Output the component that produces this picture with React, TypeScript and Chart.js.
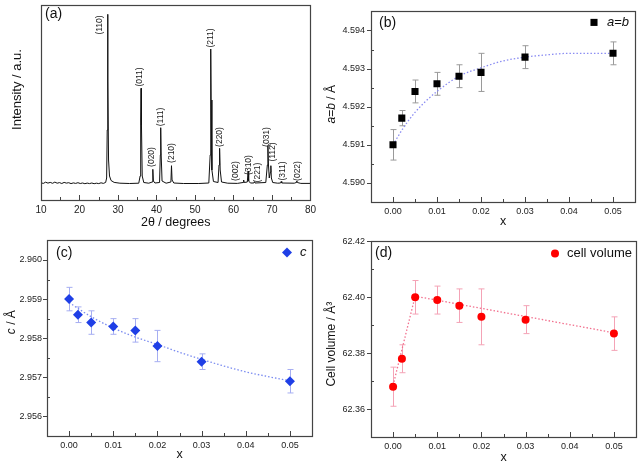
import React, { useEffect, useRef } from "react";
import { Chart, registerables } from "chart.js";
Chart.register(...registerables);

const FONT = '"Liberation Sans", Arial, Helvetica, sans-serif';

// ---------- (a) XRD pattern ----------
const xrdTheta = [
  10.0, 10.6, 11.2, 11.8, 12.4, 13.0, 13.6, 14.2, 14.8, 15.4, 16.0, 16.6, 17.2, 17.8, 18.4, 19.0, 19.6, 20.2,
  20.8, 21.4, 22.0, 22.6, 23.2, 23.8, 24.4, 25.0, 25.6, 26.2, 26.8, 27.05, 27.2, 27.3, 27.4, 27.55, 27.8, 28.2,
  29.0, 30.5, 33.0, 35.4, 35.75, 35.9, 36.0, 36.1, 36.3, 36.7, 38.0, 38.9, 39.05, 39.2, 39.6, 40.8, 41.0, 41.1,
  41.2, 41.45, 42.5, 43.75, 43.9, 44.05, 44.5, 47.0, 51.0, 53.6, 53.95, 54.1, 54.2, 54.4, 54.8, 56.0, 56.25,
  56.4, 56.55, 56.9, 58.5, 61.0, 62.5, 62.65, 62.8, 63.6, 63.8, 63.95, 64.4, 65.3, 65.45, 65.6, 68.4, 68.8,
  68.95, 69.1, 69.3, 69.6, 69.72, 69.85, 70.2, 71.5, 72.25, 72.4, 72.55, 75.8, 76.3, 76.45, 76.6, 77.5, 80.0,
];
const xrdIntensity = [
  17.2, 16.6, 17.8, 16.9, 17.6, 16.7, 17.9, 16.8, 17.4, 16.5, 17.6, 16.9, 17.3, 16.4, 17.1, 16.6, 17.3, 16.5,
  17.0, 16.3, 16.9, 16.4, 17.0, 16.3, 16.8, 16.4, 17.2, 16.6, 17.6, 22, 70, 185.7, 120, 40, 24, 19.5,
  17.6, 16.8, 16.5, 16.8, 24, 80, 111.7, 75, 24, 17.5, 16.8, 18, 30.7, 19, 17, 17.5, 45, 72.3,
  48, 19, 16.8, 18, 34.3, 20, 17, 16.5, 16.5, 17, 45, 151, 100, 30, 18.5, 17.5, 35,
  51.7, 30, 18, 16.8, 16.6, 17.5, 20, 17.5, 18, 29, 19, 17, 17, 18.3, 17, 17.5, 35,
  54.3, 35, 22, 28, 34.3, 22, 17.5, 16.8, 17, 18.5, 17, 16.8, 17.5, 19, 17.5, 16.6, 16.6,
];
const peakNames = ["(110)", "(011)", "(020)", "(111)", "(210)", "(211)", "(220)", "(002)", "(310)", "(221)", "(031)", "(112)", "(311)", "(022)"];
const peakLabelTheta = [25.3, 35.7, 38.8, 41.1, 43.9, 54.0, 56.4, 60.7, 63.9, 66.3, 68.6, 70.2, 72.8, 76.7];
const peakLabelIntensity = [175, 123, 43, 83, 47, 162, 63, 29, 35, 27.5, 63, 48, 29, 29];
const xrdTicks = [10, 20, 30, 40, 50, 60, 70, 80];

// ---------- (b)(c)(d) lattice parameters ----------
const compX = [0, 0.002, 0.005, 0.01, 0.015, 0.02, 0.03, 0.05];
const compTicks = [0, 0.01, 0.02, 0.03, 0.04, 0.05];

const latticeA = [4.591, 4.5917, 4.5924, 4.5926, 4.5928, 4.5929, 4.5933, 4.5934];
const latticeAErr = [0.0004, 0.0002, 0.0003, 0.0003, 0.0003, 0.0005, 0.0003, 0.0003];
const fitAX = [0, 0.0025, 0.005, 0.0075, 0.01, 0.015, 0.02, 0.025, 0.03, 0.035, 0.04, 0.045, 0.05];
const fitAY = [4.591, 4.59147, 4.59185, 4.59215, 4.5924, 4.5928, 4.59302, 4.5932, 4.5933, 4.59336, 4.5934, 4.5934, 4.5934];
const aTicks = [4.59, 4.591, 4.592, 4.593, 4.594];

const latticeC = [2.959, 2.9586, 2.9584, 2.9583, 2.9582, 2.9578, 2.9574, 2.9569];
const latticeCErr = [0.0003, 0.0002, 0.0003, 0.0002, 0.0003, 0.0004, 0.0002, 0.0003];
const fitCX = [0, 0.005, 0.01, 0.015, 0.02, 0.025, 0.03, 0.035, 0.04, 0.045, 0.05];
const fitCY = [2.95891, 2.95855, 2.95826, 2.95803, 2.95784, 2.95764, 2.95746, 2.95729, 2.95714, 2.95702, 2.95691];
const cTicks = [2.956, 2.957, 2.958, 2.959, 2.96];

const cellVolume = [62.368, 62.378, 62.4, 62.399, 62.397, 62.393, 62.392, 62.387];
const cellVolumeErr = [0.007, 0.005, 0.006, 0.005, 0.006, 0.01, 0.005, 0.006];
const fitVX = [0, 0.005, 0.05];
const fitVY = [62.3685, 62.4004, 62.3873];
const vTicks = [62.36, 62.38, 62.4, 62.42];

type Run = { t: string; i?: boolean };

function drawRuns(ctx: CanvasRenderingContext2D, runs: Run[], size: number, x: number, y: number, rotate: boolean, align: "center" | "left") {
  ctx.save();
  ctx.translate(x, y);
  if (rotate) ctx.rotate(-Math.PI / 2);
  const f = (r: Run) => `${r.i ? "italic " : ""}${size}px ${FONT}`;
  let total = 0;
  runs.forEach((r) => { ctx.font = f(r); total += ctx.measureText(r.t).width; });
  let cx = align === "center" ? -total / 2 : 0;
  ctx.textBaseline = "middle";
  ctx.textAlign = "left";
  ctx.fillStyle = "#111";
  runs.forEach((r) => { ctx.font = f(r); ctx.fillText(r.t, cx, 0); cx += ctx.measureText(r.t).width; });
  ctx.restore();
}

function drawMarker(ctx: CanvasRenderingContext2D, style: string, x: number, y: number, r: number, color: string) {
  ctx.save();
  ctx.fillStyle = color;
  ctx.beginPath();
  if (style === "rect") {
    const s = Math.SQRT1_2 * r;
    ctx.rect(x - s, y - s, 2 * s, 2 * s);
  } else if (style === "rectRot") {
    ctx.moveTo(x, y - r); ctx.lineTo(x + r, y); ctx.lineTo(x, y + r); ctx.lineTo(x - r, y); ctx.closePath();
  } else {
    ctx.arc(x, y, r, 0, Math.PI * 2);
  }
  ctx.fill();
  ctx.restore();
}

const decor = {
  id: "decor",
  beforeDatasetsDraw(chart: any, _a: any, o: any) {
    if (!o || !o.err) return;
    const { ctx } = chart;
    const xs = chart.scales.x, ys = chart.scales.y;
    const pts = chart.data.datasets[0].data;
    ctx.save();
    ctx.strokeStyle = o.err.color;
    ctx.lineWidth = 1;
    pts.forEach((p: any, k: number) => {
      const e = o.err.values[k];
      const px = Math.round(xs.getPixelForValue(p.x)) + 0.5;
      const t = ys.getPixelForValue(p.y + e), b = ys.getPixelForValue(p.y - e);
      ctx.beginPath();
      ctx.moveTo(px, t); ctx.lineTo(px, b);
      ctx.moveTo(px - 3, t); ctx.lineTo(px + 3, t);
      ctx.moveTo(px - 3, b); ctx.lineTo(px + 3, b);
      ctx.stroke();
    });
    ctx.restore();
  },
  afterDraw(chart: any, _a: any, o: any) {
    if (!o) return;
    const { ctx, chartArea: ca } = chart;
    const xs = chart.scales.x, ys = chart.scales.y;
    ctx.save();
    ctx.strokeStyle = "#444";
    ctx.lineWidth = 1;
    const minors = (vals: number[], min: number, max: number) => {
      const out: number[] = [];
      const step = vals[1] - vals[0];
      const ext = [vals[0] - step / 2, ...vals.slice(0, -1).map((v, k) => (v + vals[k + 1]) / 2), vals[vals.length - 1] + step / 2];
      const eps = step * 1e-3;
      ext.forEach((v) => { if (v > min + eps && v < max - eps) out.push(v); });
      return out;
    };
    // x ticks (inward)
    const xv = xs.ticks.map((t: any) => t.value);
    ctx.beginPath();
    xv.forEach((v: number) => { const p = Math.round(xs.getPixelForValue(v)) + 0.5; ctx.moveTo(p, ca.bottom); ctx.lineTo(p, ca.bottom - 5); });
    minors(xv, xs.min, xs.max).forEach((v) => { const p = Math.round(xs.getPixelForValue(v)) + 0.5; ctx.moveTo(p, ca.bottom); ctx.lineTo(p, ca.bottom - 3); });
    ctx.stroke();
    if (o.yTicks) {
      const yv = ys.ticks.map((t: any) => t.value);
      ctx.beginPath();
      yv.forEach((v: number) => { const p = Math.round(ys.getPixelForValue(v)) + 0.5; ctx.moveTo(ca.left - 4, p); ctx.lineTo(ca.left, p); });
      minors(yv, ys.min, ys.max).forEach((v) => { const p = Math.round(ys.getPixelForValue(v)) + 0.5; ctx.moveTo(ca.left, p); ctx.lineTo(ca.left + 3, p); });
      ctx.stroke();
    }
    // frame
    ctx.lineWidth = 1.2;
    ctx.strokeRect(Math.round(ca.left) + 0.5, Math.round(ca.top) + 0.5, Math.round(ca.width), Math.round(ca.height));
    ctx.restore();

    // panel label
    drawRuns(ctx, [{ t: o.panel.text }], 14, ca.left + o.panel.dx, ca.top + o.panel.dy, false, "left");
    // y title
    if (o.yTitle) drawRuns(ctx, o.yTitle.runs, o.yTitle.size, o.yTitle.x, (ca.top + ca.bottom) / 2 + o.yTitle.dy, true, "center");
    // legend
    if (o.legend) {
      const L = o.legend;
      drawMarker(ctx, L.style, ca.right + L.mx, ca.top + L.dy, L.r, L.color);
      drawRuns(ctx, L.runs, 13, ca.right + L.tx, ca.top + L.dy, false, "left");
    }
    // peak labels
    if (o.peaks) {
      ctx.save();
      ctx.font = `8.5px ${FONT}`;
      ctx.fillStyle = "#222";
      ctx.textAlign = "center";
      ctx.textBaseline = "middle";
      o.peaks.names.forEach((n: string, k: number) => {
        const x = xs.getPixelForValue(o.peaks.x[k]);
        const y = ys.getPixelForValue(o.peaks.y[k]);
        ctx.save();
        ctx.translate(x, y);
        ctx.rotate(-Math.PI / 2);
        ctx.fillText(n, 0, 0);
        ctx.restore();
      });
      ctx.restore();
    }
  },
};

function xAxis(min: number, max: number, ticks: number[], digits: number, height: number, size: number, pad: number, title: string, titlePad: number) {
  return {
    type: "linear",
    min, max,
    afterBuildTicks: (s: any) => { s.ticks = ticks.map((v) => ({ value: v })); },
    afterFit: (s: any) => { s.height = height; },
    grid: { display: false, drawTicks: false },
    border: { display: false },
    ticks: { autoSkip: false, maxRotation: 0, padding: pad, color: "#222", font: { family: FONT, size }, callback: (v: any) => Number(v).toFixed(digits) },
    title: { display: true, text: title, color: "#111", font: { family: FONT, size: 12.5 }, padding: { top: 0, bottom: titlePad } },
  };
}

function yAxis(min: number, max: number, ticks: number[], digits: number, width: number, show: boolean, pad: number) {
  return {
    type: "linear",
    min, max,
    afterBuildTicks: (s: any) => { s.ticks = ticks.map((v) => ({ value: v })); },
    afterFit: (s: any) => { s.width = width; },
    grid: { display: false, drawTicks: false },
    border: { display: false },
    ticks: { display: show, autoSkip: false, padding: pad, color: "#222", font: { family: FONT, size: 9 }, callback: (v: any) => Number(v).toFixed(digits) },
    title: { display: false },
  };
}

const pts = (xs: number[], ys: number[]) => xs.map((x, k) => ({ x, y: ys[k] }));

function configA() {
  return {
    type: "scatter",
    data: {
      datasets: [
        { data: pts(xrdTheta, xrdIntensity), showLine: true, borderColor: "#111", borderWidth: 1, pointRadius: 0, tension: 0 },
      ],
    },
    options: {
      responsive: false, animation: false, devicePixelRatio: 1, events: [],
      layout: { padding: { top: 5, right: 9, left: 0, bottom: 0 } },
      scales: {
        x: xAxis(10, 80, xrdTicks, 0, 30, 10, 4, "2θ / degrees", 0),
        y: yAxis(0, 195, [], 0, 41, false, 4),
      },
      plugins: {
        legend: { display: false }, tooltip: { enabled: false },
        decor: {
          yTicks: false,
          panel: { text: "(a)", dx: 4, dy: 9 },
          yTitle: { runs: [{ t: "Intensity / a.u." }], size: 13, x: 17.5, dy: -13 },
          peaks: { names: peakNames, x: peakLabelTheta, y: peakLabelIntensity },
        },
      },
    },
    plugins: [decor],
  };
}

function configB() {
  return {
    type: "scatter",
    data: {
      datasets: [
        { data: pts(compX, latticeA), pointStyle: "rect", pointRadius: 5, backgroundColor: "#000", borderWidth: 0 },
        { data: pts(fitAX, fitAY), showLine: true, borderColor: "#8a8cf2", borderWidth: 1.3, borderDash: [1.5, 2], pointRadius: 0, cubicInterpolationMode: "monotone" },
      ],
    },
    options: {
      responsive: false, animation: false, devicePixelRatio: 1, events: [],
      layout: { padding: { top: 5, right: 3, left: 0, bottom: 0 } },
      scales: {
        x: xAxis(-0.005, 0.055, compTicks, 2, 28, 9, 4, "x", 1),
        y: yAxis(4.5895, 4.5945, aTicks, 3, 51, true, 6),
      },
      plugins: {
        legend: { display: false }, tooltip: { enabled: false },
        decor: {
          yTicks: true,
          err: { values: latticeAErr, color: "#9a9a9a" },
          panel: { text: "(b)", dx: 8, dy: 12 },
          yTitle: { runs: [{ t: "a", i: true }, { t: "=" }, { t: "b", i: true }, { t: " / Å" }], size: 12, x: 11.5, dy: -2.5 },
          legend: { style: "rect", r: 5, color: "#000", mx: -41, tx: -28, dy: 11, runs: [{ t: "a", i: true }, { t: "=" }, { t: "b", i: true }] },
        },
      },
    },
    plugins: [decor],
  };
}

function configC() {
  return {
    type: "scatter",
    data: {
      datasets: [
        { data: pts(compX, latticeC), pointStyle: "rectRot", pointRadius: 5, backgroundColor: "#1f3fe6", borderWidth: 0 },
        { data: pts(fitCX, fitCY), showLine: true, borderColor: "#7b8cf0", borderWidth: 1.3, borderDash: [1.5, 2], pointRadius: 0, cubicInterpolationMode: "monotone" },
      ],
    },
    options: {
      responsive: false, animation: false, devicePixelRatio: 1, events: [],
      layout: { padding: { top: 10, right: 8, left: 0, bottom: 0 } },
      scales: {
        x: xAxis(-0.005, 0.055, compTicks, 2, 29, 9, 4, "x", 3),
        y: yAxis(2.9555, 2.9605, cTicks, 3, 47, true, 5),
      },
      plugins: {
        legend: { display: false }, tooltip: { enabled: false },
        decor: {
          yTicks: true,
          err: { values: latticeCErr, color: "#a6aef2" },
          panel: { text: "(c)", dx: 9, dy: 13 },
          yTitle: { runs: [{ t: "c", i: true }, { t: " / Å" }], size: 12, x: 11.5, dy: -16 },
          legend: { style: "rectRot", r: 5, color: "#1f3fe6", mx: -25, tx: -12, dy: 12, runs: [{ t: "c", i: true }] },
        },
      },
    },
    plugins: [decor],
  };
}

function configD() {
  return {
    type: "scatter",
    data: {
      datasets: [
        { data: pts(compX, cellVolume), pointStyle: "circle", pointRadius: 4, backgroundColor: "#ff0000", borderWidth: 0 },
        { data: pts(fitVX, fitVY), showLine: true, borderColor: "#f2708e", borderWidth: 1.3, borderDash: [1.5, 2], pointRadius: 0, tension: 0 },
      ],
    },
    options: {
      responsive: false, animation: false, devicePixelRatio: 1, events: [],
      layout: { padding: { top: 11, right: 4, left: 0, bottom: 0 } },
      scales: {
        x: xAxis(-0.005, 0.055, compTicks, 2, 28, 9, 4, "x", 0),
        y: yAxis(62.35, 62.42, vTicks, 2, 51, true, 6),
      },
      plugins: {
        legend: { display: false }, tooltip: { enabled: false },
        decor: {
          yTicks: true,
          err: { values: cellVolumeErr, color: "#f4a3b6" },
          panel: { text: "(d)", dx: 4, dy: 11.5 },
          yTitle: { runs: [{ t: "Cell volume / Å³" }], size: 12, x: 11.5, dy: 5 },
          legend: { style: "circle", r: 4, color: "#ff0000", mx: -81, tx: -69, dy: 12, runs: [{ t: "cell volume" }] },
        },
      },
    },
    plugins: [decor],
  };
}

function Panel({ make, left, top, w, h }: { make: () => any; left: number; top: number; w: number; h: number }) {
  const ref = useRef<HTMLCanvasElement>(null);
  useEffect(() => {
    const chart = new Chart(ref.current as HTMLCanvasElement, make());
    return () => chart.destroy();
  }, []);
  return (
    <div style={{ position: "absolute", left, top, width: w, height: h }}>
      <canvas ref={ref} width={w} height={h} style={{ display: "block", width: w, height: h }} />
    </div>
  );
}

export default function App() {
  return (
    <div style={{ position: "absolute", left: 0, top: 0, width: 640, height: 465, background: "#fff", overflow: "hidden" }}>
      <Panel make={configA} left={0} top={0} w={320} h={230} />
      <Panel make={configB} left={320} top={0} w={320} h={230} />
      <Panel make={configC} left={0} top={230} w={320} h={235} />
      <Panel make={configD} left={320} top={230} w={320} h={235} />
    </div>
  );
}
